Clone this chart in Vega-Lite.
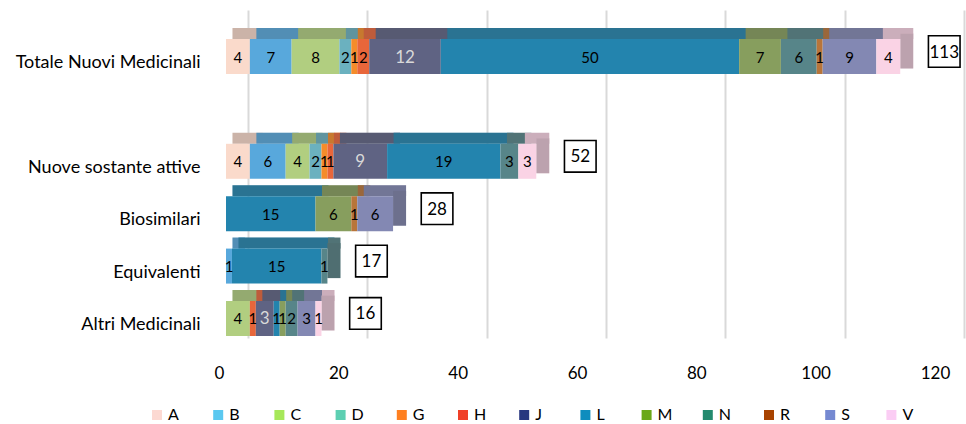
{
  "$schema": "https://vega.github.io/schema/vega-lite/v6.json",
  "width": 716,
  "height": 328,
  "autosize": "none",
  "padding": {"left": 226, "top": 10, "right": 24, "bottom": 86},
  "background": "white",
  "config": {
    "view": {"stroke": null},
    "font": "Lato",
    "axisX": {
      "grid": true,
      "gridColor": "#D9D9D9",
      "gridWidth": 2,
      "tickOffset": 22,
      "labelOffset": -29,
      "labelFlush": false,
      "domain": false,
      "ticks": false,
      "labelPadding": 27,
      "labelFontSize": 17,
      "labelFont": "Lato",
      "labelColor": "#000000",
      "tickCount": 6
    }
  },
  "data": {
    "values": [
      {"gruppo": "Totale Nuovi Medicinali", "atc": "A", "n": 4},
      {"gruppo": "Totale Nuovi Medicinali", "atc": "B", "n": 7},
      {"gruppo": "Totale Nuovi Medicinali", "atc": "C", "n": 8},
      {"gruppo": "Totale Nuovi Medicinali", "atc": "D", "n": 2},
      {"gruppo": "Totale Nuovi Medicinali", "atc": "G", "n": 1},
      {"gruppo": "Totale Nuovi Medicinali", "atc": "H", "n": 2},
      {"gruppo": "Totale Nuovi Medicinali", "atc": "J", "n": 12},
      {"gruppo": "Totale Nuovi Medicinali", "atc": "L", "n": 50},
      {"gruppo": "Totale Nuovi Medicinali", "atc": "M", "n": 7},
      {"gruppo": "Totale Nuovi Medicinali", "atc": "N", "n": 6},
      {"gruppo": "Totale Nuovi Medicinali", "atc": "R", "n": 1},
      {"gruppo": "Totale Nuovi Medicinali", "atc": "S", "n": 9},
      {"gruppo": "Totale Nuovi Medicinali", "atc": "V", "n": 4},
      {"gruppo": "Nuove sostante attive", "atc": "A", "n": 4},
      {"gruppo": "Nuove sostante attive", "atc": "B", "n": 6},
      {"gruppo": "Nuove sostante attive", "atc": "C", "n": 4},
      {"gruppo": "Nuove sostante attive", "atc": "D", "n": 2},
      {"gruppo": "Nuove sostante attive", "atc": "G", "n": 1},
      {"gruppo": "Nuove sostante attive", "atc": "H", "n": 1},
      {"gruppo": "Nuove sostante attive", "atc": "J", "n": 9},
      {"gruppo": "Nuove sostante attive", "atc": "L", "n": 19},
      {"gruppo": "Nuove sostante attive", "atc": "N", "n": 3},
      {"gruppo": "Nuove sostante attive", "atc": "V", "n": 3},
      {"gruppo": "Biosimilari", "atc": "L", "n": 15},
      {"gruppo": "Biosimilari", "atc": "M", "n": 6},
      {"gruppo": "Biosimilari", "atc": "R", "n": 1},
      {"gruppo": "Biosimilari", "atc": "S", "n": 6},
      {"gruppo": "Equivalenti", "atc": "B", "n": 1},
      {"gruppo": "Equivalenti", "atc": "L", "n": 15},
      {"gruppo": "Equivalenti", "atc": "N", "n": 1},
      {"gruppo": "Altri Medicinali", "atc": "C", "n": 4},
      {"gruppo": "Altri Medicinali", "atc": "H", "n": 1},
      {"gruppo": "Altri Medicinali", "atc": "J", "n": 3},
      {"gruppo": "Altri Medicinali", "atc": "L", "n": 1},
      {"gruppo": "Altri Medicinali", "atc": "M", "n": 1},
      {"gruppo": "Altri Medicinali", "atc": "N", "n": 2},
      {"gruppo": "Altri Medicinali", "atc": "S", "n": 3},
      {"gruppo": "Altri Medicinali", "atc": "V", "n": 1}
    ]
  },
  "transform": [
    {"stack": "n", "groupby": ["gruppo"], "sort": [{"field": "atc", "order": "ascending"}], "as": ["inizio", "fine"]},
    {"joinaggregate": [{"op": "max", "field": "fine", "as": "totale"}, {"op": "min", "field": "inizio", "as": "base"}], "groupby": ["gruppo"]},
    {"calculate": "(datum.inizio + datum.fine) / 2", "as": "centro"}
  ],
  "encoding": {
    "y": {
      "field": "gruppo",
      "type": "nominal",
      "scale": {
        "domain": ["Totale Nuovi Medicinali", "", "Nuove sostante attive", "Biosimilari", "Equivalenti", "Altri Medicinali"],
        "paddingInner": 0.332,
        "paddingOuter": 0.296,
        "align": 0.935
      },
      "axis": {
        "title": null,
        "domain": false,
        "ticks": false,
        "grid": false,
        "labelPadding": 26,
        "labelOffset": 6.5,
        "labelLimit": 320,
        "labelFontSize": 18,
        "labelFont": "Lato",
        "labelColor": "#000000"
      }
    }
  },
  "layer": [
    {
      "mark": {"type": "bar", "height": 11, "yOffset": -23, "xOffset": 6.5, "x2Offset": 13},
      "encoding": {
        "x": {"field": "inizio", "type": "quantitative", "scale": {"domain": [0, 120], "nice": false}, "axis": {"title": null}},
        "x2": {"field": "fine"},
        "color": {
          "field": "atc", "type": "nominal", "legend": null,
          "scale": {"domain": ["A","B","C","D","G","H","J","L","M","N","R","S","V"],
                    "range": ["#FADACB","#58A8DC","#B1CE80","#6BB1BF","#F58C2A","#E8663A","#5F6383","#2384AE","#879E5E","#578589","#B8753A","#8388B3","#FAD3E5"]}
        }
      }
    },
    {
      "transform": [{"filter": "datum.fine === datum.totale"}],
      "mark": {"type": "bar", "height": 11, "yOffset": -23, "xOffset": 6.5, "x2Offset": 13, "color": "#404040", "opacity": 0.25},
      "encoding": {
        "x": {"field": "base", "type": "quantitative", "axis": {"title": null}},
        "x2": {"field": "totale"}
      }
    },
    {
      "transform": [{"filter": "datum.fine === datum.totale"}],
      "mark": {"type": "bar", "height": 35, "yOffset": -5.5, "x2Offset": 13},
      "encoding": {
        "x": {"field": "fine", "type": "quantitative", "axis": {"title": null}},
        "x2": {"field": "fine"},
        "color": {
          "field": "atc", "type": "nominal", "legend": null,
          "scale": {"domain": ["A","B","C","D","G","H","J","L","M","N","R","S","V"],
                    "range": ["#FADACB","#58A8DC","#B1CE80","#6BB1BF","#F58C2A","#E8663A","#5F6383","#2384AE","#879E5E","#578589","#B8753A","#8388B3","#FAD3E5"]}
        }
      }
    },
    {
      "transform": [{"filter": "datum.fine === datum.totale"}],
      "mark": {"type": "bar", "height": 35, "yOffset": -5.5, "x2Offset": 13, "color": "#404040", "opacity": 0.33},
      "encoding": {
        "x": {"field": "fine", "type": "quantitative", "axis": {"title": null}},
        "x2": {"field": "fine"}
      }
    },
    {
      "mark": {"type": "bar"},
      "encoding": {
        "x": {"field": "inizio", "type": "quantitative", "axis": {"title": null}},
        "x2": {"field": "fine"},
        "color": {
          "field": "atc", "type": "nominal", "legend": null,
          "scale": {"domain": ["A","B","C","D","G","H","J","L","M","N","R","S","V"],
                    "range": ["#FADACB","#58A8DC","#B1CE80","#6BB1BF","#F58C2A","#E8663A","#5F6383","#2384AE","#879E5E","#578589","#B8753A","#8388B3","#FAD3E5"]}
        }
      }
    },
    {
      "mark": {"type": "text", "font": "Lato", "dy": 1},
      "encoding": {
        "x": {"field": "centro", "type": "quantitative", "axis": {"title": null}},
        "text": {"field": "n", "type": "quantitative"},
        "color": {"condition": {"test": "datum.atc === 'J'", "value": "#D9D9D9"}, "value": "#000000"},
        "size": {"condition": {"test": "datum.atc === 'J'", "value": 17}, "value": 15}
      }
    },
    {
      "transform": [{"filter": "datum.fine === datum.totale"}],
      "mark": {"type": "point", "shape": "square", "size": 1000, "filled": true, "fill": "white", "stroke": "black", "strokeWidth": 1.6, "opacity": 1, "xOffset": 44, "yOffset": -5},
      "encoding": {
        "x": {"field": "totale", "type": "quantitative", "axis": {"title": null}}
      }
    },
    {
      "transform": [{"filter": "datum.fine === datum.totale"}],
      "mark": {"type": "text", "font": "Lato", "fontSize": 17, "color": "#000000", "dx": 44, "dy": -4},
      "encoding": {
        "x": {"field": "totale", "type": "quantitative", "axis": {"title": null}},
        "text": {"field": "totale", "type": "quantitative"}
      }
    },
    {
      "mark": {"type": "point", "shape": "square", "filled": true, "opacity": 0},
      "encoding": {
        "x": {"field": "inizio", "type": "quantitative", "axis": {"title": null}},
        "color": {
          "field": "atc", "type": "nominal",
          "scale": {"domain": ["A","B","C","D","G","H","J","L","M","N","R","S","V"],
                    "range": ["#FCD9D2","#5BC8F0","#A7E85A","#5DCFB2","#FF8020","#F04028","#27377F","#0E8DBE","#6AA818","#238A6E","#A84300","#7589D1","#FBCDF4"]},
          "legend": {
            "title": null,
            "orient": "none",
            "legendX": -77,
            "legendY": 397,
            "direction": "horizontal",
            "columns": 13,
            "gridAlign": "all",
            "columnPadding": 27.2,
            "symbolType": "square",
            "symbolSize": 100,
            "symbolOpacity": 1,
            "symbolStrokeWidth": 0,
            "labelFontSize": 16,
            "labelFont": "Lato",
            "labelColor": "#000000",
            "labelOffset": 3
          }
        }
      }
    }
  ],
  "resolve": {"scale": {"color": "independent"}}
}
